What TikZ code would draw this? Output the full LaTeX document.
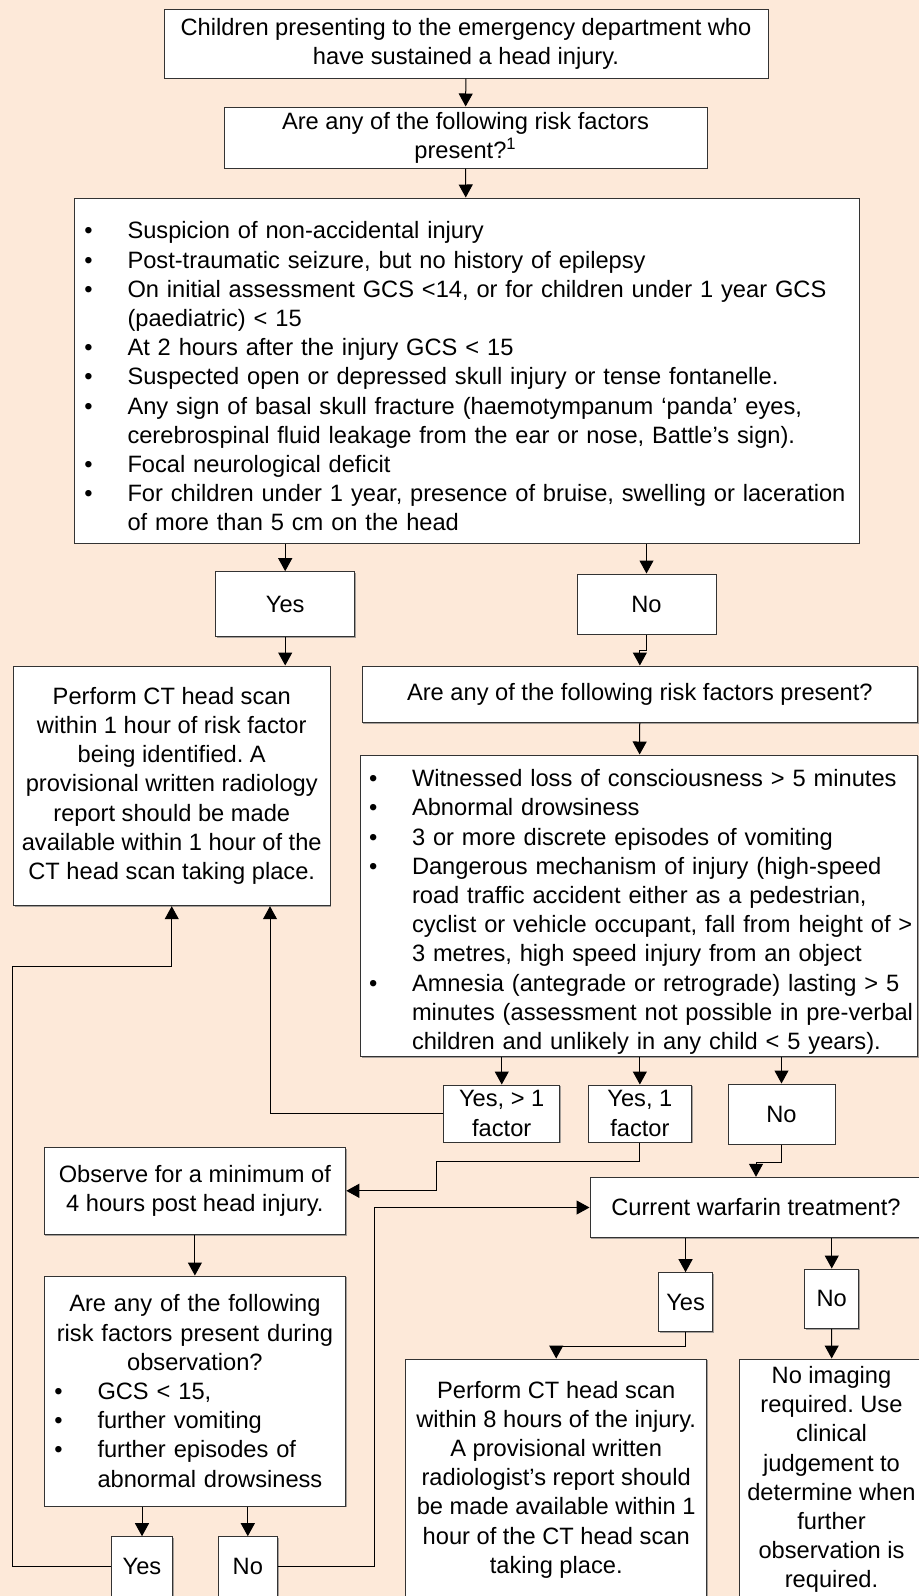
\documentclass[tikz,border=0pt]{standalone}
\usepackage{fontspec}
\setmainfont{Liberation Sans}
\usepackage{enumitem}
\usetikzlibrary{positioning, calc, arrows.meta, shadows}
\setlist[itemize]{nosep, label=\textbullet, labelwidth=21.5pt, labelsep=0pt, align=left}
\setlength{\parindent}{0pt}
\frenchspacing
\definecolor{peach}{HTML}{FDE9D9}
\definecolor{boxline}{HTML}{333333}
\begin{document}
\begin{tikzpicture}[x=0.5pt, y=-0.5pt, -{Triangle[length=6.5pt,width=7pt]},
      line width=0.5pt,
      box/.style={draw=boxline, fill=white, inner sep=0pt, align=center,
        font=\fontsize{11.83}{14.6}\selectfont,
        drop shadow={shadow xshift=0.7pt, shadow yshift=-0.7pt, fill=black!50, opacity=0.7}},
      listbox/.style={box, align=left, inner xsep=0.5pt}]
      \useasboundingbox (0,0) rectangle (919,1596);
      \clip (0,0) rectangle (919,1596);
      \fill[peach] (0,0) rectangle (919,1596);
      % start, first question, first risk list
      \node[box, minimum width=302pt, minimum height=34.5pt] (start) at (466,43.5)
        {Children presenting to the emergency department who\\ have sustained a head injury.};
      \node[box, minimum width=241.5pt, minimum height=30.5pt] (q_1) at (465.5,137.5)
        {Are any of the following risk factors\\ present?\textsuperscript{1}};
      \path (start) edge (q_1);
      \node[listbox, text width=391.5pt, minimum height=172.5pt] (risk_1) at (466.5,370.5)
        {\begin{itemize}[leftmargin=26.25pt]
          \item Suspicion of non-accidental injury
          \item Post-traumatic seizure, but no history of epilepsy
          \item On initial assessment GCS <14, or for children under 1 year GCS\\ (paediatric) < 15
          \item At 2 hours after the injury GCS < 15
          \item Suspected open or depressed skull injury or tense fontanelle.
          \item Any sign of basal skull fracture (haemotympanum ‘panda’ eyes,\\ cerebrospinal fluid leakage from the ear or nose, Battle’s sign).
          \item Focal neurological deficit
          \item \mbox{For children under 1 year, presence of bruise, swelling or laceration}\\ of more than 5 cm on the head
        \end{itemize}};
      \path (q_1) edge (risk_1);
      % yes / no after first list
      \node[box, minimum width=69.5pt, minimum height=32.5pt] (yes_1) at (285.2,604.2) {Yes};
      \node[box, minimum width=69.5pt, minimum height=30pt] (no_1) at (646.5,604) {No};
      \path (risk_1.south -| yes_1) edge (yes_1);
      \path (risk_1.south -| no_1) edge (no_1);
      \node[box, minimum width=158.25pt, minimum height=119.85pt] (ct_1) at (171.75,785.85)
        {Perform CT head scan\\ within 1 hour of risk factor\\ being identified. A\\ provisional written radiology\\ report should be made\\ available within 1 hour of the\\ CT head scan taking place.};
      \path (yes_1) edge (yes_1 |- ct_1.north);
      % second question and list
      \node[box, minimum width=277.85pt, minimum height=28.35pt] (q_2) at (639.85,694.35)
        {Are any of the following risk factors present?};
      \draw (no_1.south) -- ++(0,16) -| (q_2.north);
      \node[listbox, text width=277.6pt, minimum height=150.85pt] (risk_2) at (639.1,905.85)
        {\begin{itemize}[leftmargin=25.25pt]
          \item Witnessed loss of consciousness > 5 minutes
          \item Abnormal drowsiness
          \item 3 or more discrete episodes of vomiting
          \item \mbox{Dangerous mechanism of injury (high-speed}\\ \mbox{road traffic accident either as a pedestrian,}\\ \mbox{cyclist or vehicle occupant, fall from height of >}\\ 3 metres, high speed injury from an object
          \item \mbox{Amnesia (antegrade or retrograde) lasting > 5}\\ \mbox{minutes (assessment not possible in pre-verbal}\\ \mbox{children and unlikely in any child < 5 years).}
        \end{itemize}};
      \path (q_2) edge (risk_2);
      % answers to second list
      \node[box, minimum width=58pt, minimum height=28.5pt] (yes_2a) at (501.75,1113.5) {Yes, > 1\\ factor};
      \node[box, minimum width=51.85pt, minimum height=28.5pt] (yes_2b) at (639.85,1113.5) {Yes, 1\\ factor};
      \node[box, minimum width=53.5pt, minimum height=30pt] (no_2) at (781.5,1114) {No};
      \path (risk_2.south -| yes_2a) edge (yes_2a);
      \path (risk_2.south -| yes_2b) edge (yes_2b);
      \path (risk_2.south -| no_2) edge (no_2);
      \draw (yes_2a.west) -| ($(ct_1.south)+(98.25,0)$);
      % observation branch
      \node[box, minimum width=150.9pt, minimum height=43.5pt] (obs) at (194.9,1190.8)
        {Observe for a minimum of\\ 4 hours post head injury.};
      \draw (yes_2b.south) -- ++(0,18.7) -| ($(obs.east)+(89.7,0)$) -- (obs.east);
      \node[listbox, text width=149.9pt, minimum height=115pt] (q_3) at (194.9,1391)
        {{\centering Are any of the following\\ risk factors present during\\ observation?\par}
         \begin{itemize}[leftmargin=26.25pt]
          \item GCS < 15,
          \item further vomiting
          \item further episodes of\\ abnormal drowsiness
        \end{itemize}};
      \path (obs) edge (q_3);
      \node[box, minimum width=30.3pt, minimum height=30pt] (yes_3) at (142,1566.7) {Yes};
      \node[box, minimum width=29.5pt, minimum height=30pt] (no_3) at (247.8,1566.7) {No};
      \path (q_3.south -| yes_3) edge (yes_3);
      \path (q_3.south -| no_3) edge (no_3);
      \draw (yes_3.west) -- ++(-98.5,0) |- ($(ct_1.south)+(0,60)$) -- (ct_1.south);
      % warfarin branch
      \node[box, minimum width=166pt, minimum height=30.2pt] (warf) at (756,1207.5) {Current warfarin treatment?};
      \draw (no_2.south) -- ++(0,17.7) -| (warf.north);
      \draw (no_3.east) -| ($(warf.west)+(-215,0)$) -- (warf.west);
      \node[box, minimum width=27.25pt, minimum height=29.5pt] (yes_4) at (685.55,1302.2) {Yes};
      \node[box, minimum width=27pt, minimum height=29.65pt] (no_4) at (831.75,1298.65) {No};
      \path (warf.south -| yes_4) edge (yes_4);
      \path (warf.south -| no_4) edge (no_4);
      \node[box, minimum width=150.5pt, minimum height=120.5pt] (ct_2) at (556.2,1479.5)
        {Perform CT head scan\\ within 8 hours of the injury.\\ A provisional written\\ radiologist’s report should\\ be made available within 1\\ hour of the CT head scan\\ taking place.};
      \draw (yes_4.south) -- ++(0,14.3) -| (ct_2.north);
      \node[box, minimum width=92.5pt, minimum height=120.5pt] (noimg) at (831.5,1479.5)
        {No imaging\\ required. Use\\ clinical\\ judgement to\\ determine when\\ further\\ observation is\\ required.};
      \path (no_4) edge (noimg);
  \end{tikzpicture}
\end{document}
